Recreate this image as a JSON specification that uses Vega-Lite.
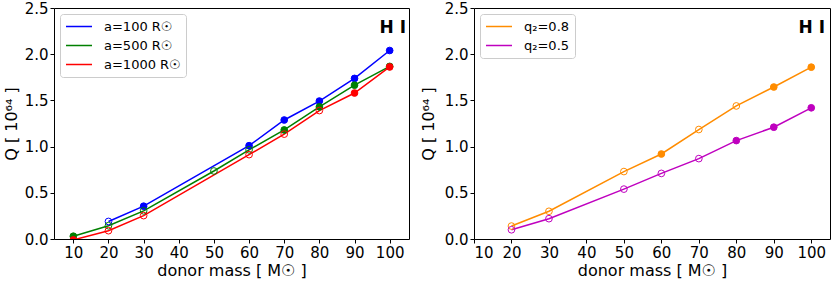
{
  "$schema": "https://vega.github.io/schema/vega-lite/v6.json",
  "padding": {"left": 2, "top": 0, "right": 0, "bottom": 0},
  "background": "white",
  "bounds": "flush",
  "spacing": 65,
  "datasets": {
    "left": [
      {"series": "a=100 R☉", "mass": 20, "Q": 0.19, "filled": 0},
      {"series": "a=100 R☉", "mass": 30, "Q": 0.355, "filled": 1},
      {"series": "a=100 R☉", "mass": 60, "Q": 1.01, "filled": 1},
      {"series": "a=100 R☉", "mass": 70, "Q": 1.288, "filled": 1},
      {"series": "a=100 R☉", "mass": 80, "Q": 1.493, "filled": 1},
      {"series": "a=100 R☉", "mass": 90, "Q": 1.738, "filled": 1},
      {"series": "a=100 R☉", "mass": 100, "Q": 2.04, "filled": 1},
      {"series": "a=500 R☉", "mass": 10, "Q": 0.03, "filled": 1},
      {"series": "a=500 R☉", "mass": 20, "Q": 0.144, "filled": 0},
      {"series": "a=500 R☉", "mass": 30, "Q": 0.305, "filled": 0},
      {"series": "a=500 R☉", "mass": 50, "Q": 0.736, "filled": 0},
      {"series": "a=500 R☉", "mass": 60, "Q": 0.965, "filled": 0},
      {"series": "a=500 R☉", "mass": 70, "Q": 1.18, "filled": 1},
      {"series": "a=500 R☉", "mass": 80, "Q": 1.43, "filled": 1},
      {"series": "a=500 R☉", "mass": 90, "Q": 1.665, "filled": 1},
      {"series": "a=500 R☉", "mass": 100, "Q": 1.868, "filled": 1},
      {"series": "a=1000 R☉", "mass": 10, "Q": -0.01, "filled": 1},
      {"series": "a=1000 R☉", "mass": 20, "Q": 0.09, "filled": 0},
      {"series": "a=1000 R☉", "mass": 30, "Q": 0.253, "filled": 0},
      {"series": "a=1000 R☉", "mass": 60, "Q": 0.913, "filled": 0},
      {"series": "a=1000 R☉", "mass": 70, "Q": 1.135, "filled": 0},
      {"series": "a=1000 R☉", "mass": 80, "Q": 1.39, "filled": 0},
      {"series": "a=1000 R☉", "mass": 90, "Q": 1.58, "filled": 1},
      {"series": "a=1000 R☉", "mass": 100, "Q": 1.862, "filled": 1}
    ],
    "right": [
      {"series": "q₂=0.8", "mass": 20, "Q": 0.14, "filled": 0},
      {"series": "q₂=0.8", "mass": 30, "Q": 0.30, "filled": 0},
      {"series": "q₂=0.8", "mass": 50, "Q": 0.73, "filled": 0},
      {"series": "q₂=0.8", "mass": 60, "Q": 0.92, "filled": 1},
      {"series": "q₂=0.8", "mass": 70, "Q": 1.185, "filled": 0},
      {"series": "q₂=0.8", "mass": 80, "Q": 1.44, "filled": 0},
      {"series": "q₂=0.8", "mass": 90, "Q": 1.645, "filled": 1},
      {"series": "q₂=0.8", "mass": 100, "Q": 1.86, "filled": 1},
      {"series": "q₂=0.5", "mass": 20, "Q": 0.10, "filled": 0},
      {"series": "q₂=0.5", "mass": 30, "Q": 0.22, "filled": 0},
      {"series": "q₂=0.5", "mass": 50, "Q": 0.54, "filled": 0},
      {"series": "q₂=0.5", "mass": 60, "Q": 0.71, "filled": 0},
      {"series": "q₂=0.5", "mass": 70, "Q": 0.87, "filled": 0},
      {"series": "q₂=0.5", "mass": 80, "Q": 1.065, "filled": 1},
      {"series": "q₂=0.5", "mass": 90, "Q": 1.21, "filled": 1},
      {"series": "q₂=0.5", "mass": 100, "Q": 1.42, "filled": 1}
    ]
  },
  "resolve": {"scale": {"color": "independent", "fill": "independent", "stroke": "independent"}, "legend": {"color": "independent"}},
  "hconcat": [
    {
      "width": 355,
      "height": 231,
      "title": {"text": "H I", "anchor": "end", "offset": -36, "dx": -3, "fontSize": 17, "fontWeight": "bold", "font": "DejaVu Sans", "color": "black"},
      "data": {"name": "left"},
      "encoding": {
        "x": {"field": "mass", "type": "quantitative", "scale": {"domain": [4.5, 105.5], "nice": false, "zero": false},
              "axis": {"values": [10, 20, 30, 40, 50, 60, 70, 80, 90, 100], "format": "d", "title": "donor mass [ M☉ ]", "titlePadding": 2}},
        "y": {"field": "Q", "type": "quantitative", "scale": {"domain": [0, 2.5], "nice": false},
              "axis": {"values": [0, 0.5, 1, 1.5, 2, 2.5], "format": ".1f", "title": "Q [ 10⁶⁴ ]", "titlePadding": 5}}
      },
      "layer": [
        {
          "mark": {"type": "line", "strokeWidth": 1.5, "clip": true},
          "encoding": {
            "color": {"field": "series", "type": "nominal",
                      "scale": {"domain": ["a=100 R☉", "a=500 R☉", "a=1000 R☉"], "range": ["#0000ff", "#008000", "#ff0000"]},
                      "legend": {"title": null, "orient": "top-left", "offset": 6}}
          }
        },
        {
          "mark": {"type": "point", "filled": true, "size": 45, "strokeWidth": 1, "opacity": 1, "clip": true},
          "encoding": {
            "fill": {"field": "series", "type": "nominal",
                     "scale": {"domain": ["a=100 R☉", "a=500 R☉", "a=1000 R☉"], "range": ["#0000ff", "#008000", "#ff0000"]}, "legend": null},
            "stroke": {"field": "series", "type": "nominal",
                       "scale": {"domain": ["a=100 R☉", "a=500 R☉", "a=1000 R☉"], "range": ["#0000ff", "#008000", "#ff0000"]}, "legend": null},
            "fillOpacity": {"field": "filled", "type": "quantitative", "scale": null}
          }
        }
      ]
    },
    {
      "width": 356,
      "height": 231,
      "title": {"text": "H I", "anchor": "end", "offset": -36, "dx": -5, "fontSize": 17, "fontWeight": "bold", "font": "DejaVu Sans", "color": "black"},
      "data": {"name": "right"},
      "encoding": {
        "x": {"field": "mass", "type": "quantitative", "scale": {"domain": [10, 105], "nice": false, "zero": false},
              "axis": {"values": [10, 20, 30, 40, 50, 60, 70, 80, 90, 100], "format": "d", "title": "donor mass [ M☉ ]", "titlePadding": 2}},
        "y": {"field": "Q", "type": "quantitative", "scale": {"domain": [0, 2.5], "nice": false},
              "axis": {"values": [0, 0.5, 1, 1.5, 2, 2.5], "format": ".1f", "title": "Q [ 10⁶⁴ ]", "titlePadding": 8}}
      },
      "layer": [
        {
          "mark": {"type": "line", "strokeWidth": 1.5, "clip": true},
          "encoding": {
            "color": {"field": "series", "type": "nominal",
                      "scale": {"domain": ["q₂=0.8", "q₂=0.5"], "range": ["#ff8c00", "#bf00bf"]},
                      "legend": {"title": null, "orient": "top-left", "offset": 6}}
          }
        },
        {
          "mark": {"type": "point", "filled": true, "size": 45, "strokeWidth": 1, "opacity": 1, "clip": true},
          "encoding": {
            "fill": {"field": "series", "type": "nominal",
                     "scale": {"domain": ["q₂=0.8", "q₂=0.5"], "range": ["#ff8c00", "#bf00bf"]}, "legend": null},
            "stroke": {"field": "series", "type": "nominal",
                       "scale": {"domain": ["q₂=0.8", "q₂=0.5"], "range": ["#ff8c00", "#bf00bf"]}, "legend": null},
            "fillOpacity": {"field": "filled", "type": "quantitative", "scale": null}
          }
        }
      ]
    }
  ],
  "config": {
    "font": "DejaVu Sans",
    "view": {"stroke": "black", "strokeWidth": 1},
    "axis": {"domain": false, "grid": false, "tickColor": "black", "tickSize": 4, "labelPadding": 2,
             "labelFont": "DejaVu Sans", "labelFontSize": 15, "labelColor": "black",
             "titleFont": "DejaVu Sans", "titleFontSize": 16, "titleFontWeight": "normal", "titleColor": "black"},
    "legend": {"fillColor": "white", "strokeColor": "#cccccc", "cornerRadius": 3, "padding": 5,
               "symbolType": "stroke", "symbolSize": 676, "symbolStrokeWidth": 1.5,
               "labelFont": "DejaVu Sans", "labelFontSize": 13, "labelColor": "black", "labelOffset": 11,
               "clipHeight": 15, "rowPadding": 4}
  }
}
